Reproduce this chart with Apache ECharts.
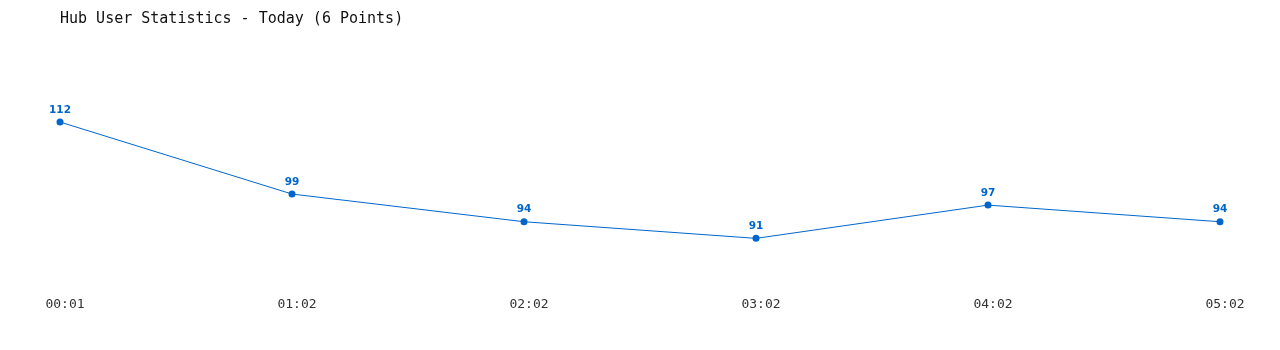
<!DOCTYPE html>
<html><head><meta charset="utf-8">
<script src="https://cdn.jsdelivr.net/npm/echarts@6/dist/echarts.min.js"></script>
<style>html,body{margin:0;padding:0;background:#fff}#c{width:1280px;height:350px}</style>
</head><body><div id="c"></div>
<script>
const categories = ["00:01","01:02","02:02","03:02","04:02","05:02"];
const users = [112, 99, 94, 91, 97, 94];
const titleText = "Hub User Statistics - Today (6 Points)";

const chart = echarts.init(document.getElementById('c'), null, {renderer:'canvas'});
chart.setOption({
  animation:false,
  backgroundColor:'#ffffff',
  title:{
    text:titleText, left:55, top:7,
    textStyle:{fontFamily:'DejaVu Sans Mono', fontSize:15, fontWeight:'normal', color:'#111'}
  },
  grid:{left:60, right:60, top:50, height:221.6},
  xAxis:{
    type:'category', data:categories, boundaryGap:false,
    axisLine:{show:false}, axisTick:{show:false}, splitLine:{show:false},
    axisLabel:{margin:27, padding:[0,0,0,10], fontFamily:'DejaVu Sans Mono', fontSize:13, color:'#333'}
  },
  yAxis:{type:'value', min:85, max:125, show:false},
  series:[{
    type:'line', data:users,
    symbol:'circle', symbolSize:7,
    lineStyle:{color:'#0066cc', width:1},
    itemStyle:{color:'#0066cc'},
    label:{show:true, position:'top', distance:3, fontFamily:'DejaVu Sans', fontWeight:'bold', fontSize:10.5, color:'#0066cc'}
  }]
});
</script></body></html>
